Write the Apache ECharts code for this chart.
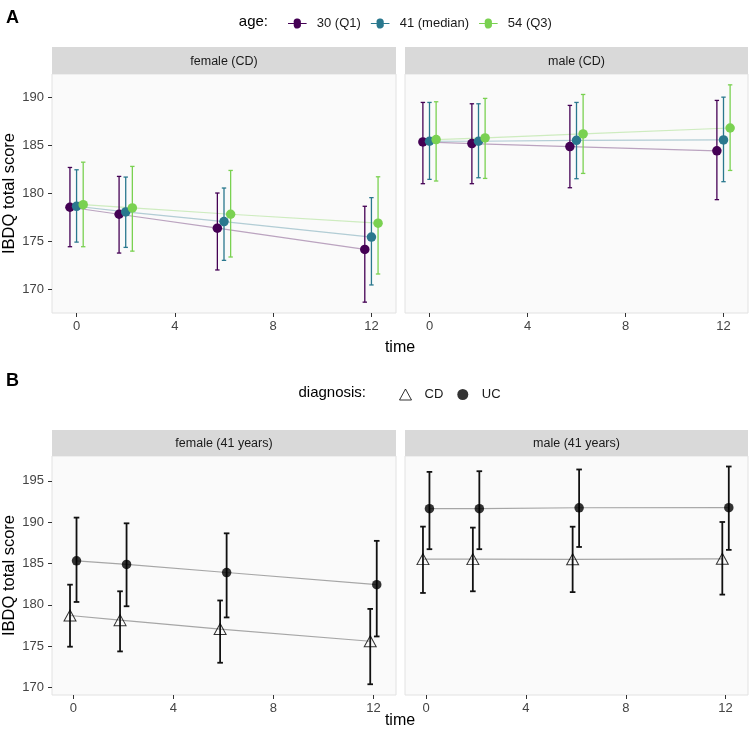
<!DOCTYPE html>
<html>
<head>
<meta charset="utf-8">
<script src="https://cdn.jsdelivr.net/npm/echarts@6/dist/echarts.min.js"></script>
<style>
  html, body { margin: 0; background: #fff; }
  #chart { width: 749px; height: 733px; }
</style>
</head>
<body>
<div id="chart"></div>
<script>
  // time points (months)
  const times = [0, 2, 6, 12];
  const xTicks = [0, 4, 8, 12];
  const yTicksA = [170, 175, 180, 185, 190];
  const yTicksB = [170, 175, 180, 185, 190, 195];

  // panel A: one row per age group (Q1, median, Q3)
  const ageLabels = ['30 (Q1)', '41 (median)', '54 (Q3)'];
  const femaleAgeEst = [
    [178.57, 177.84, 176.39, 174.18],
    [178.67, 178.08, 177.08, 175.46],
    [178.84, 178.50, 177.84, 176.91],
  ];
  const femaleAgeLow = [
    [174.46, 173.80, 172.04, 168.69],
    [174.94, 174.39, 173.04, 170.48],
    [174.46, 174.00, 173.39, 171.62],
  ];
  const femaleAgeHigh = [
    [182.71, 181.78, 180.05, 178.67],
    [182.47, 181.71, 180.57, 179.57],
    [183.26, 182.82, 182.40, 181.74],
  ];
  const maleAgeEst = [
    [185.37, 185.20, 184.89, 184.44],
    [185.44, 185.44, 185.54, 185.58],
    [185.61, 185.79, 186.20, 186.82],
  ];
  const maleAgeLow = [
    [181.02, 181.02, 180.60, 179.36],
    [181.47, 181.64, 181.54, 181.23],
    [181.30, 181.57, 182.09, 182.40],
  ];
  const maleAgeHigh = [
    [189.48, 189.34, 189.17, 189.69],
    [189.48, 189.34, 189.48, 190.03],
    [189.55, 189.90, 190.31, 191.31],
  ];

  // panel B: one row per diagnosis (CD, UC), age 41
  const diagLabels = ['CD', 'UC'];
  const femaleDiagEst = [
    [178.71, 178.15, 177.07, 175.60],
    [185.33, 184.89, 183.91, 182.44],
  ];
  const femaleDiagLow = [
    [174.94, 174.37, 173.00, 170.40],
    [180.35, 179.83, 178.48, 176.18],
  ];
  const femaleDiagHigh = [
    [182.44, 181.64, 180.53, 179.51],
    [190.55, 189.86, 188.65, 187.74],
  ];
  const maleDiagEst = [
    [185.53, 185.53, 185.51, 185.57],
    [191.63, 191.63, 191.74, 191.75],
  ];
  const maleDiagLow = [
    [181.44, 181.64, 181.54, 181.24],
    [186.73, 186.73, 187.00, 186.65],
  ];
  const maleDiagHigh = [
    [189.46, 189.34, 189.45, 190.02],
    [196.08, 196.16, 196.37, 196.73],
  ];

  // styling
  const ageColors = ['#440154', '#2A788E', '#7AD151'];
  const ageDodge = [-0.27, 0, 0.27];
  const diagDodge = [-0.13, 0.13];
  const FONT = '"Liberation Sans", Arial, sans-serif';

  const chart = echarts.init(document.getElementById('chart'));

  function errorBarSeries(name, panel, color, xs, lo, hi, capHalf, lw) {
    return {
      name: name,
      type: 'custom',
      xAxisIndex: panel,
      yAxisIndex: panel,
      z: 2,
      silent: true,
      encode: { x: 0, y: [1, 2] },
      data: xs.map((x, i) => [x, lo[i], hi[i]]),
      renderItem: function (params, api) {
        const pLo = api.coord([api.value(0), api.value(1)]);
        const pHi = api.coord([api.value(0), api.value(2)]);
        const st = { stroke: color, lineWidth: lw };
        return {
          type: 'group',
          children: [
            { type: 'line', shape: { x1: pLo[0], y1: pLo[1], x2: pHi[0], y2: pHi[1] }, style: st },
            { type: 'line', shape: { x1: pLo[0] - capHalf, y1: pLo[1], x2: pLo[0] + capHalf, y2: pLo[1] }, style: st },
            { type: 'line', shape: { x1: pHi[0] - capHalf, y1: pHi[1], x2: pHi[0] + capHalf, y2: pHi[1] }, style: st },
          ],
        };
      },
    };
  }

  const series = [];

  // panel A (grids 0, 1)
  [[femaleAgeEst, femaleAgeLow, femaleAgeHigh], [maleAgeEst, maleAgeLow, maleAgeHigh]].forEach(([est, low, high], panel) => {
    ageLabels.forEach((name, g) => {
      const xs = times.map((t) => t + ageDodge[g]);
      series.push({
        name: name,
        type: 'scatter',
        xAxisIndex: panel,
        yAxisIndex: panel,
        z: 3,
        symbolSize: 9.5,
        itemStyle: { color: ageColors[g], opacity: 1 },
        data: xs.map((x, i) => [x, est[g][i]]),
      });
      series.push({
        name: name,
        type: 'line',
        xAxisIndex: panel,
        yAxisIndex: panel,
        z: 1,
        silent: true,
        symbol: 'none',
        lineStyle: { color: ageColors[g], width: 1.2, opacity: 0.35 },
        data: xs.map((x, i) => [x, est[g][i]]),
      });
      series.push(errorBarSeries(name, panel, ageColors[g], xs, low[g], high[g], 2.2, 1.3));
    });
  });

  // panel B (grids 2, 3)
  [[femaleDiagEst, femaleDiagLow, femaleDiagHigh], [maleDiagEst, maleDiagLow, maleDiagHigh]].forEach(([est, low, high], k) => {
    const panel = k + 2;
    diagLabels.forEach((name, g) => {
      const xs = times.map((t) => t + diagDodge[g]);
      series.push({
        name: name,
        type: 'scatter',
        xAxisIndex: panel,
        yAxisIndex: panel,
        z: 3,
        symbol: g === 0 ? 'triangle' : 'circle',
        symbolSize: g === 0 ? [12, 11] : 9.5,
        itemStyle: g === 0
          ? { color: 'rgba(0,0,0,0)', borderColor: '#000', borderWidth: 1 }
          : { color: '#000' },
        data: xs.map((x, i) => [x, est[g][i]]),
      });
      series.push({
        name: name,
        type: 'line',
        xAxisIndex: panel,
        yAxisIndex: panel,
        z: 1,
        silent: true,
        symbol: 'none',
        lineStyle: { color: '#a6a6a6', width: 1.2 },
        data: xs.map((x, i) => [x, est[g][i]]),
      });
      series.push(errorBarSeries(name, panel, '#111', xs, low[g], high[g], 2.8, 1.8));
    });
  });

  const grids = [
    { left: 52, top: 74, width: 344, height: 239 },
    { left: 405, top: 74, width: 343, height: 239 },
    { left: 52, top: 456, width: 344, height: 239 },
    { left: 405, top: 456, width: 343, height: 239 },
  ].map((g) => Object.assign(g, {
    show: true, backgroundColor: '#fafafa', borderColor: '#e2e2e2', borderWidth: 1,
  }));

  const xAxes = grids.map((g, i) => ({
    type: 'value',
    gridIndex: i,
    position: 'bottom',
    min: i < 2 ? -1.0 : -0.85,
    max: i < 2 ? 13.0 : 12.9,
    axisLine: { show: false, onZero: false },
    splitLine: { show: false },
    axisTick: { show: true, length: 4, lineStyle: { color: '#333' }, customValues: xTicks },
    axisLabel: { customValues: xTicks, fontSize: 13, color: '#444', margin: 7, fontFamily: FONT },
  }));

  const yAxes = grids.map((g, i) => {
    const ticks = i < 2 ? yTicksA : yTicksB;
    const left = i % 2 === 0;
    return {
      type: 'value',
      gridIndex: i,
      position: 'left',
      min: i < 2 ? 167.56 : 169.1,
      max: i < 2 ? 192.44 : 198.0,
      name: left ? 'IBDQ total score' : '',
      nameLocation: 'middle',
      nameGap: 27,
      nameTextStyle: { fontSize: 16.5, color: '#000', fontFamily: FONT },
      axisLine: { show: false, onZero: false },
      splitLine: { show: false },
      axisTick: { show: left, length: 4, lineStyle: { color: '#333' }, customValues: ticks },
      axisLabel: { show: left, customValues: ticks, fontSize: 13, color: '#444', margin: 8, fontFamily: FONT },
    };
  });

  // facet strips and free text
  const strips = [
    { x: 52, y: 47, w: 344, h: 27, text: 'female (CD)' },
    { x: 405, y: 47, w: 343, h: 27, text: 'male (CD)' },
    { x: 52, y: 430, w: 344, h: 26, text: 'female (41 years)' },
    { x: 405, y: 430, w: 343, h: 26, text: 'male (41 years)' },
  ];
  const graphic = [];
  strips.forEach((s) => {
    graphic.push({ type: 'rect', shape: { x: s.x, y: s.y, width: s.w, height: s.h }, style: { fill: '#d9d9d9' }, silent: true });
    graphic.push({
      type: 'text', x: s.x + s.w / 2, y: s.y + s.h / 2 + 1, silent: true,
      style: { text: s.text, align: 'center', verticalAlign: 'middle', fill: '#1a1a1a', fontSize: 12.5, fontFamily: FONT },
    });
  });
  const texts = [
    { x: 6, y: 18, text: 'A', size: 18, bold: true, align: 'left' },
    { x: 6, y: 381, text: 'B', size: 18, bold: true, align: 'left' },
    { x: 268, y: 22, text: 'age:', size: 15, align: 'right' },
    { x: 366, y: 393, text: 'diagnosis:', size: 15, align: 'right' },
    { x: 400, y: 348, text: 'time', size: 16, align: 'center' },
    { x: 400, y: 721, text: 'time', size: 16, align: 'center' },
  ];
  texts.forEach((t) => {
    graphic.push({
      type: 'text', x: t.x, y: t.y, silent: true,
      style: {
        text: t.text, align: t.align, verticalAlign: 'middle', fill: '#000',
        fontSize: t.size, fontWeight: t.bold ? 'bold' : 'normal', fontFamily: FONT,
      },
    });
  });

  const option = {
    backgroundColor: '#fff',
    animation: false,
    textStyle: { fontFamily: FONT },
    grid: grids,
    xAxis: xAxes,
    yAxis: yAxes,
    legend: [
      {
        left: 283,
        top: 12,
        itemWidth: 21,
        itemHeight: 10,
        itemGap: 10,
        selectedMode: false,
        textStyle: { fontSize: 13, color: '#1a1a1a', padding: [0, 0, 0, 4] },
        data: ageLabels.map((n, g) => ({
          name: n,
          icon: 'path://M0,4.4H6.2A3.9,3.9 0 1,1 13.8,4.4H20V5.6H13.8A3.9,3.9 0 1,1 6.2,5.6H0Z',
          itemStyle: { color: ageColors[g] },
        })),
      },
      {
        left: 394,
        top: 383,
        itemWidth: 12,
        itemHeight: 11,
        itemGap: 14,
        selectedMode: false,
        textStyle: { fontSize: 13, color: '#1a1a1a', padding: [0, 0, 0, 8] },
        data: [
          { name: 'CD', icon: 'triangle', itemStyle: { color: 'rgba(0,0,0,0)', borderColor: '#000', borderWidth: 1 } },
          { name: 'UC', icon: 'circle', itemStyle: { color: '#000' } },
        ],
      },
    ],
    graphic: graphic,
    series: series,
  };

  chart.setOption(option);
</script>
</body>
</html>
